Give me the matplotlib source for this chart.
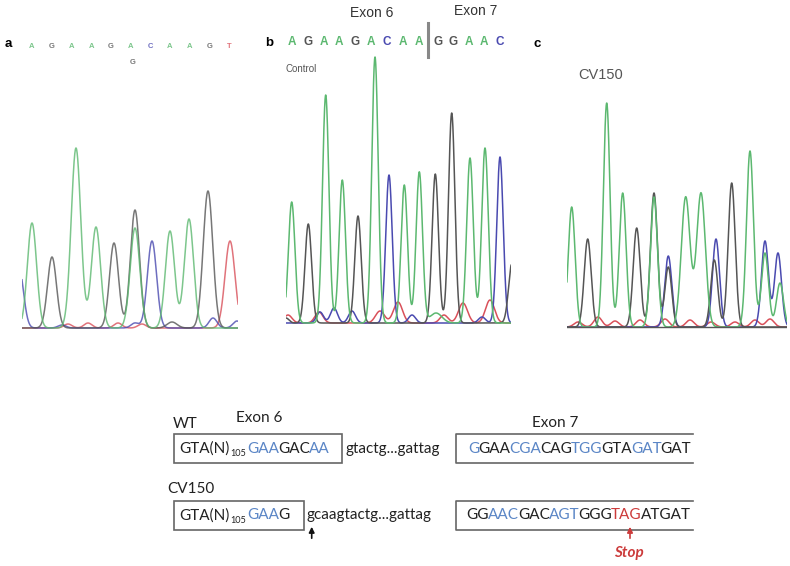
import numpy as np
import matplotlib
matplotlib.use("Agg")
import matplotlib.pyplot as plt
from matplotlib.patches import Rectangle

W, H = 790, 566
fig = plt.figure(figsize=(W / 100, H / 100), dpi=100)

# overlay axes in pixel units for labels and the exon diagram
ax0 = fig.add_axes([0, 0, 1, 1])
ax0.set_xlim(0, W)
ax0.set_ylim(H, 0)
ax0.axis("off")

# ---------------- chromatogram data (position in scans, peak height, width) ----------------
# panel a : heterozygous sample
peaks_a = {
    "A": ([10, 54, 74, 113, 148, 167], [105, 180, 101, 100, 97, 109], [4.6, 4.8, 4.6, 4.8, 4.6, 4.6]),
    "G": ([30, 92, 113, 150, 186], [71, 85, 118, 6, 137], [4.5, 4.5, 4.6, 5, 4.8]),
    "C": ([-3, 130, 191, 215, 40, 113], [60, 87, 10, 7, 3, 5], [4.5, 4.6, 4, 4, 4, 4]),
    "T": ([208, 46, 66, 96, 120], [87, 4, 5, 5, 4], [5.0, 4, 4, 4, 4]),
}
# panel b : control
peaks_b = {
    "A": ([5.7, 39.7, 56.3, 89, 118.3, 133.3, 184, 199, 150], [121, 228, 143, 266, 138, 151, 165, 175, 10],
          [3.3, 3.2, 3.2, 3.2, 3.2, 3.2, 3.3, 3.3, 6]),
    "G": ([22.3, 72, 149.3, 165.7, 226, 0], [99, 107, 149, 210, 60, 5], [3.3, 3.2, 3.2, 3.2, 3.4, 3]),
    "C": ([103, 214, 34, 48, 66, 126, 196], [148, 166, 11, 15, 12, 8, 6], [3.2, 3.2, 3.5, 3.5, 3.5, 3.5, 3.5]),
    "T": ([2, 33, 94, 112, 158, 177, 204], [8, 11, 12, 21, 8, 20, 23], [4, 4, 4.5, 4.5, 4, 4.5, 4.5]),
}
# panel c : CV150
peaks_c = {
    "A": ([4.7, 39.7, 55.7, 87, 118.7, 134, 183, 198, 213], [120, 224, 134, 130, 130, 134, 176, 74, 44],
          [3.4, 3.3, 3.4, 3.5, 4.4, 4.4, 3.5, 3.5, 3.5]),
    "G": ([20.7, 69.7, 87, 101.3, 147.3, 164.7], [88, 99, 134, 60, 67, 144], [3.5, 3.5, 3.5, 3.4, 3.5, 3.5]),
    "C": ([101.3, 149, 198, 211], [71, 88, 86, 74], [3.5, 3.5, 3.5, 3.5]),
    "T": ([11, 31, 48, 73, 98, 123, 144, 168, 188, 203], [5, 10, 6, 7, 8, 7, 5, 5, 7, 8],
          [4, 4, 4, 4, 4, 4, 4, 4, 4, 4]),
}

seq_a = "AGAAGACAAGT"
seq_b = "AGAAGACAAGGAAC"

# exon diagram sequences: (text, colour key, subscript)
wt_exon6 = [("GTA(N)", "k", False), ("105", "k", True), ("GAA", "b", False), ("GAC", "k", False), ("AA", "b", False)]
wt_intron = "gtactg...gattag"
wt_exon7 = [("G", "b", False), ("GAA", "k", False), ("CGA", "b", False), ("CAG", "k", False),
            ("TGG", "b", False), ("GTA", "k", False), ("GAT", "b", False), ("GAT", "k", False)]
cv_exon6 = [("GTA(N)", "k", False), ("105", "k", True), ("GAA", "b", False), ("G", "k", False)]
cv_intron = "gcaagtactg...gattag"
cv_exon7 = [("GG", "k", False), ("AAC", "b", False), ("GAC", "k", False), ("AGT", "b", False),
            ("GGG", "k", False), ("TAG", "r", False), ("ATGAT", "k", False)]

base_col = {"A": "#5cb870", "G": "#555555", "C": "#4a4ab0", "T": "#d9505a"}
seq_col = {"k": "#222222", "b": "#5b86c6", "r": "#cc3b3b"}


def px_axes(x0, x1, y0, y1):
    return fig.add_axes([x0 / W, 1 - y1 / H, (x1 - x0) / W, (y1 - y0) / H])


def draw_trace(x0, x1, y0, y1, baseline, peaks, alpha=1.0, lw=1.1):
    ax = px_axes(x0, x1, y0, y1)
    ax.set_xlim(0, x1 - x0)
    ax.set_ylim(-(y1 - baseline), baseline - y0)
    ax.axis("off")
    ax.patch.set_alpha(0)
    xs = np.linspace(-5, x1 - x0 + 5, 2000)
    for b in ["T", "C", "G", "A"]:
        pos, hts, wid = peaks[b]
        ys = np.zeros_like(xs)
        for p, h, s in zip(pos, hts, wid):
            ys += h * np.exp(-(xs - p) ** 2 / (2 * s ** 2))
        ax.plot(xs, ys, color=base_col[b], lw=lw, alpha=alpha)
    return ax


# panel a
draw_trace(22, 238, 130, 331, 328, peaks_a, alpha=0.8)
ax0.text(5, 44, "a", fontsize=9.5, fontweight="bold", va="center", ha="left", family="Liberation Sans")
for ch, x in zip(seq_a, np.linspace(32, 229, len(seq_a))):
    ax0.text(x, 46, ch, fontsize=5.5, color=base_col[ch], alpha=0.8, ha="center", va="center",
             family="Liberation Sans", fontweight="bold")
ax0.text(133, 62, "G", fontsize=5.5, color=base_col["G"], alpha=0.8, ha="center", va="center",
         family="Liberation Sans", fontweight="bold")

# panel b
draw_trace(286, 511, 40, 326, 323, peaks_b)
ax0.text(265, 43, "b", fontsize=9.5, fontweight="bold", va="center", ha="left", family="Liberation Sans")
xb = list(np.linspace(291.7, 419, 9)) + list(np.linspace(437.7, 500, 5))
for ch, x in zip(seq_b, xb):
    ax0.text(x, 42, ch, fontsize=8.5, color=base_col[ch], ha="center", va="center",
             family="Liberation Sans", fontweight="bold")
ax0.plot([428, 428], [23, 57], color="#888888", lw=2.2)
ax0.text(372, 13, "Exon 6", fontsize=10, color="#333333", ha="center", va="center", family="Liberation Sans")
ax0.text(476, 11, "Exon 7", fontsize=10, color="#333333", ha="center", va="center", family="Liberation Sans")
ax0.text(285, 69, "Control", fontsize=7, color="#555555", ha="left", va="center", family="Liberation Sans")

# panel c
axc = draw_trace(567, 787, 60, 330, 327, peaks_c)
axc.axhline(0, color="#555555", lw=1.0)
ax0.text(534, 44, "c", fontsize=9.5, fontweight="bold", va="center", ha="left", family="Liberation Sans")
ax0.text(578, 75, "CV150", fontsize=10.5, color="#555555", ha="left", va="center", family="Liberation Sans")

# ---------------- exon diagram ----------------
FONT = "Lato"
renderer = fig.canvas.get_renderer()


def width(s, size):
    if not s:
        return 0.0
    t = ax0.text(0, 0, s, fontsize=size, family=FONT)
    w = t.get_window_extent(renderer=renderer).width
    t.remove()
    return w


# fit the sequence font so that the exon 7 row spans its box like the original
SEQ = 13 * 228 / width("GGAACGACAGTGGGTAGATGAT", 13)
TIGHT = 1.1  # small-size rendering leaves extra space where colour runs meet


def runs(x, y, items, size=SEQ):
    start, prefix, n = x, "", 0
    for s, c, sub in items:
        if sub:
            fs = size * 0.6
            xs = start + width(prefix, size) + 0.5
            ax0.text(xs, y + 3.5, s, color=seq_col[c], fontsize=fs, ha="left", va="baseline", family=FONT)
            start = xs + width(s, fs) + 1.0
            prefix, n = "", 0
            continue
        # ink offset of this run inside the whole string drawn so far
        off = width(prefix + s, size) - width(s, size) - TIGHT * n if prefix else 0.0
        ax0.text(start + off, y, s, color=seq_col[c], fontsize=size, ha="left", va="baseline", family=FONT)
        prefix += s
        n += 1


ax0.text(172.7, 428, "WT", fontsize=11, color="#222222", va="baseline", ha="left", family=FONT)
ax0.text(259, 422, "Exon 6", fontsize=11, color="#222222", va="baseline", ha="center", family=FONT)
ax0.text(555, 427, "Exon 7", fontsize=11, color="#222222", va="baseline", ha="center", family=FONT)
ax0.text(167.3, 493, "CV150", fontsize=11, color="#222222", va="baseline", ha="left", family=FONT)

box_kw = dict(fill=False, edgecolor="#666666", lw=1.2)
# WT row
ax0.add_patch(Rectangle((174, 434), 167.7, 29, **box_kw))
runs(179.3, 453, wt_exon6)
ax0.text(345, 453, wt_intron, fontsize=SEQ, color="#222222", va="baseline", ha="left", family=FONT)
ax0.plot([693, 456, 456, 693], [433.5, 433.5, 463, 463], color="#666666", lw=1.2)
runs(468.3, 453, wt_exon7)

# CV150 row
ax0.add_patch(Rectangle((174, 500.5), 130, 29.5, **box_kw))
runs(179.3, 519.3, cv_exon6)
ax0.text(306.7, 519.3, cv_intron, fontsize=SEQ, color="#222222", va="baseline", ha="left", family=FONT)
ax0.plot([693, 456, 456, 693], [500.5, 500.5, 530, 530], color="#666666", lw=1.2)
runs(466.7, 519.3, cv_exon7)

ax0.annotate("", xy=(311.7, 524), xytext=(311.7, 541),
             arrowprops=dict(arrowstyle="-|>", color="#111111", lw=1.2, mutation_scale=8))
ax0.annotate("", xy=(630, 524), xytext=(630, 541),
             arrowprops=dict(arrowstyle="-|>", color="#cc3b3b", lw=1.2, mutation_scale=8))
ax0.text(629, 553, "Stop", fontsize=11, color="#cc3b3b", fontweight="bold", fontstyle="italic",
         ha="center", va="center", family=FONT)

fig.savefig("out.png", dpi=100)
